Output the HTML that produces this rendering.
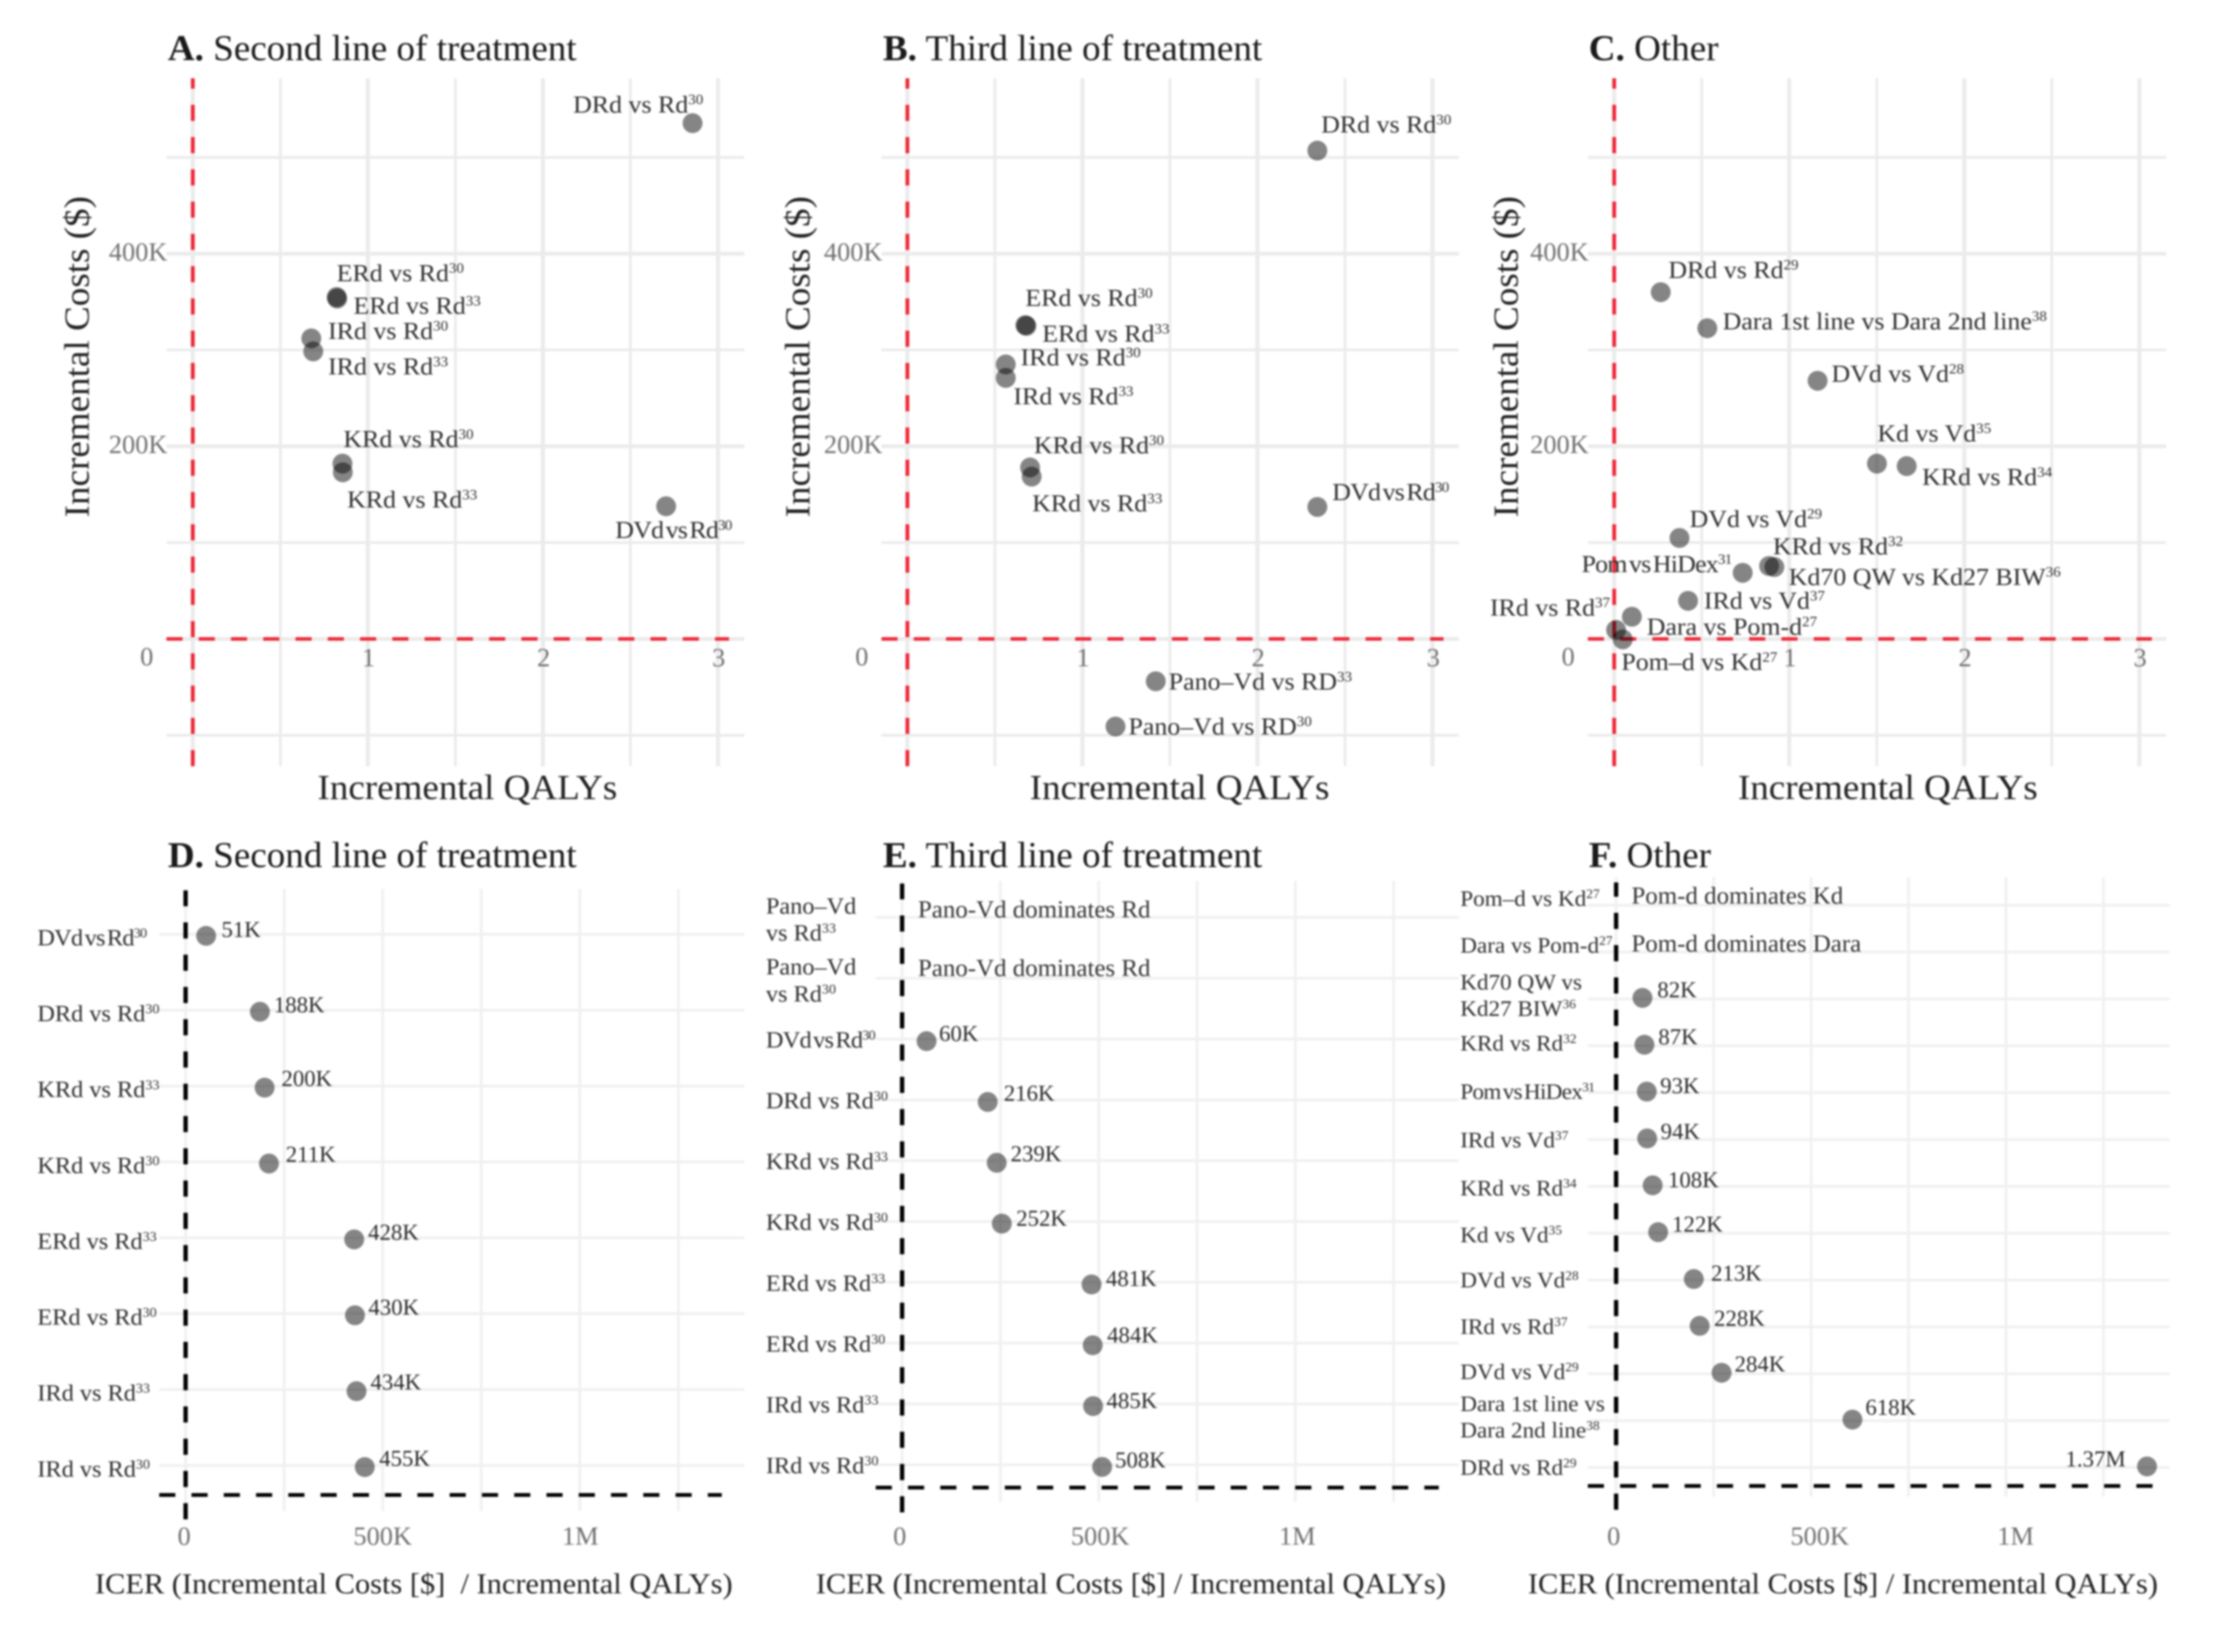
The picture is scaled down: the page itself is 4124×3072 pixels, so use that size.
<!DOCTYPE html>
<html lang="en">
<head>
<meta charset="utf-8">
<title>Incremental costs, QALYs and ICERs</title>
<style>
html,body{margin:0;padding:0;background:#fff;width:4124px;height:3072px;overflow:hidden}
svg{display:block;filter:blur(1.9px);font-family:"Liberation Serif",serif}
text{white-space:pre}
</style>
</head>
<body>
<svg id="chart" xmlns="http://www.w3.org/2000/svg" width="4124" height="3072" viewBox="0 0 4124 3072"></svg>
<script>
/* ---------- DATA ---------- */
const qalyMajorTicks = [0, 1, 2, 3];
const qalyMinorTicks = [0.5, 1.5, 2.5];
const qalyTickLabels = ['1', '2', '3'];
const costMajorTicks = [0, 200, 400];
const costMinorTicks = [-100, 100, 300, 500];
const costTickLabels = ['0', '200K', '400K'];
const icerMajorTicks = [0, 500, 1000];
const icerMinorTicks = [250, 750, 1250];
const icerTickLabels = ['0', '500K', '1M'];

const categoriesA = ['DRd vs Rd|30','ERd vs Rd|30','ERd vs Rd|33','IRd vs Rd|30','IRd vs Rd|33','KRd vs Rd|30','KRd vs Rd|33','DVd vs Rd|30'];
const qalysA = [2.855,0.822,0.825,0.677,0.688,0.855,0.857,2.704];
const costsA = [535.5,355,353.4,312,298.5,182,173,137.7];

const categoriesB = ['DRd vs Rd|30','ERd vs Rd|30','ERd vs Rd|33','IRd vs Rd|30','IRd vs Rd|33','KRd vs Rd|30','KRd vs Rd|33','DVd vs Rd|30','Pano–Vd vs RD|33','Pano–Vd vs RD|30'];
const qalysB = [2.342,0.674,0.68,0.562,0.562,0.701,0.71,2.342,1.419,1.189];
const costsB = [507,325.8,325,285,271,178,168.5,137,-44,-91];

const categoriesC = ['DRd vs Rd|29','Dara 1st line vs Dara 2nd line|38','DVd vs Vd|28','Kd vs Vd|35','KRd vs Rd|34','DVd vs Vd|29','KRd vs Rd|32','Kd70 QW vs Kd27 BIW|36','Pom vs HiDex|31','IRd vs Vd|37','Dara vs Pom-d|27','IRd vs Rd|37','Pom–d vs Kd|27'];
const qalysC = [0.266,0.532,1.162,1.501,1.671,0.373,0.885,0.915,0.734,0.422,0.101,0.011,0.049];
const costsC = [360,322.6,268,182,179.4,104.8,75.7,74.6,68.6,39.5,23,9.3,-0.5];

const categoriesD = ['DVd vs Rd|30','DRd vs Rd|30','KRd vs Rd|33','KRd vs Rd|30','ERd vs Rd|33','ERd vs Rd|30','IRd vs Rd|33','IRd vs Rd|30'];
const icersD = [51,188,200,211,428,430,434,455];
const notesD = [null,null,null,null,null,null,null,null];

const categoriesE = ['Pano–Vd\nvs Rd|33','Pano–Vd\nvs Rd|30','DVd vs Rd|30','DRd vs Rd|30','KRd vs Rd|33','KRd vs Rd|30','ERd vs Rd|33','ERd vs Rd|30','IRd vs Rd|33','IRd vs Rd|30'];
const icersE = [null,null,60,216,239,252,481,484,485,508];
const notesE = ['Pano-Vd dominates Rd','Pano-Vd dominates Rd',null,null,null,null,null,null,null,null];

const categoriesF = ['Pom–d vs Kd|27','Dara vs Pom-d|27','Kd70 QW vs\nKd27 BIW|36','KRd vs Rd|32','Pom vs HiDex|31','IRd vs Vd|37','KRd vs Rd|34','Kd vs Vd|35','DVd vs Vd|28','IRd vs Rd|37','DVd vs Vd|29','Dara 1st line vs\nDara 2nd line|38','DRd vs Rd|29'];
const icersF = [null,null,82,87,93,94,108,122,213,228,284,618,1370];
const notesF = ['Pom-d dominates Kd','Pom-d dominates Dara',null,null,null,null,null,null,null,null,null,null,null];

/* ---------- LAYOUT (not data) ---------- */
const SX = 0.8917, SY = 0.9827;
const svg = document.getElementById('chart');
const NS = 'http://www.w3.org/2000/svg';
const GRID_TOP = '#ebebeb', GRID_BOTTOM = '#f0f0f0';

const nudgesA = [[-249,-20],[0,-30],[34,29],[35,1],[31,44],[2,-31],[9,67],[-106,60]];
const nudgesB = [[8,-34],[0,-36],[33,30],[31,2],[16,50],[8,-27],[1,66],[31,-13],[27,16],[27,15]];
const nudgesC = [[16,-27],[32,2],[29,2],[1,-42],[32,36],[21,-21],[8,-22],[30,34],[-336,-1],[33,15],[31,34],[-263,-27],[-3,58]];
const nudgesD = [[32,2],[29,1],[35,-3],[35,-3],[29,1],[28,-1],[29,-3],[30,-2]];
const nudgesE = [[31,-4],[31,-8],[26,0],[33.5,-2],[29,-3],[30,4],[30,3],[30,-5],[28,4],[27,1]];
const nudgesF = [[44,-1],[44,1],[31,-1],[29,-1],[28,3],[28,1],[32,4],[29,-1],[36,3],[30,0],[27,-2],[27,-9],[-170,0]];
const catOffsetsF = [1,1,0,9,12,15,17,17,14,13,10,0,14];

function group(name){
  const g = document.createElementNS(NS,'g');
  
  
  svg.appendChild(g);
  return g;
}
function line(parent,x1,y1,x2,y2,stroke,width,dash,name){
  const l = document.createElementNS(NS,'line');
  l.setAttribute('x1',x1);l.setAttribute('y1',y1);l.setAttribute('x2',x2);l.setAttribute('y2',y2);
  l.setAttribute('stroke',stroke);l.setAttribute('stroke-width',width);
  if(dash) l.setAttribute('stroke-dasharray',dash);
  
  
  parent.appendChild(l);
}
function dot(parent,x,y,name){
  const c = document.createElementNS(NS,'circle');
  c.setAttribute('cx',x);c.setAttribute('cy',y);c.setAttribute('r',18.5);
  c.setAttribute('fill','#000');c.setAttribute('fill-opacity','0.48');
  
  
  parent.appendChild(c);
}
function label(parent,str,x,y,o,name){
  const t = document.createElementNS(NS,'text');
  const sx = o.sx || 1;
  t.setAttribute('transform', o.rotate ? `translate(${x} ${y}) rotate(-90) scale(${sx} 1)` : `translate(${x} ${y}) scale(${sx} 1)`);
  t.setAttribute('font-size',o.size);
  t.setAttribute('fill',o.fill);
  t.setAttribute('text-anchor',o.anchor || 'start');
  if(/^(DVd vs Rd|Pom vs HiDex)/.test(str)){
    t.setAttribute('word-spacing','-0.13em');
    t.setAttribute('letter-spacing','-0.03em');
  }
  const parts = str.split('|');
  const a = document.createElementNS(NS,'tspan');
  a.textContent = parts[0];
  if(o.title) a.setAttribute('font-weight','bold');
  t.appendChild(a);
  if(parts[1]){
    const b = document.createElementNS(NS,'tspan');
    b.textContent = parts[1];
    if(!o.title){
      b.setAttribute('font-size','0.58em');
      b.setAttribute('dy','-0.6em');
    }
    t.appendChild(b);
  }
  
  
  parent.appendChild(t);
}
const fmtIcer = v => v >= 1000 ? (v/1000).toFixed(2)+'M' : v+'K';
const slug = s => s.replace(/\|/g,'-').replace(/[^A-Za-z0-9]+/g,'-').toLowerCase();

function drawScatter(c,categories,qalys,costs,nudges){
  const g = group('panel-'+c.id);
  const X = d => c.ox + d*SX, Y = d => d*SY;
  const xs = v => X(c.x0 + v*365);
  const ys = v => Y(1209 - v*1.8225);
  qalyMinorTicks.forEach(v => line(g,xs(v),Y(148),xs(v),Y(1450),GRID_TOP,5,null,'grid-x-minor'));
  costMinorTicks.forEach(v => line(g,X(c.gridL),ys(v),X(c.gridR),ys(v),GRID_TOP,5,null,'grid-y-minor'));
  qalyMajorTicks.forEach(v => line(g,xs(v),Y(148),xs(v),Y(1450),GRID_TOP,7.5,null,'grid-x-major'));
  costMajorTicks.forEach(v => line(g,X(c.gridL),ys(v),X(c.gridR),ys(v),GRID_TOP,7,null,'grid-y-major'));
  line(g,xs(0),Y(1450),xs(0),Y(148),'#ee2737',7,'30 30','zero-qaly-reference-line');
  line(g,X(c.gridL),ys(0),X(c.hEnd),ys(0),'#ee2737',6.5,'30 30','zero-cost-reference-line');
  qalys.forEach((q,i) => dot(g,xs(q),ys(costs[i]),'point-'+slug(categories[i])));
  categories.forEach((cat,i) => label(g,cat,xs(qalys[i])+nudges[i][0]*SX,ys(costs[i])+nudges[i][1]*SY,{size:45,sx:1.07,fill:'#2e2e2e'},'point-label-'+slug(cat)));
  qalyTickLabels.forEach((s,i) => label(g,s,xs(i+1)+1.5*SX,Y(1261),{size:49,fill:'#707070',anchor:'middle'},'x-tick-label'));
  costTickLabels.forEach((s,i) => {
    if(s==='0') label(g,s,X(c.gridL-41),Y(1259),{size:49,fill:'#707070',anchor:'middle'},'y-tick-label');
    else label(g,s,X(c.gridL+2),ys(costMajorTicks[i])+13*SY,{size:49,fill:'#707070',anchor:'end'},'y-tick-label');
  });
  label(g,c.letter+'|'+c.title,X(c.titleX),Y(114),{size:68,sx:1.014,fill:'#1a1a1a',title:true},'panel-title');
  label(g,'Incremental QALYs',X(c.xTitleX),Y(1512),{size:66,sx:1.044,fill:'#222'},'x-axis-title');
  label(g,'Incremental Costs ($)',X(c.yTitleX),Y(675),{size:66,sx:1.045,fill:'#222',anchor:'middle',rotate:true},'y-axis-title');
}

function drawForest(c,categories,values,notes,nudges){
  const g = group('panel-'+c.id);
  const X = d => c.ox + d*SX, Y = d => 1530 + d*SY;
  const gx = v => X(c.x0 + v*c.ux);
  const dx = v => X(c.dataX0 + v*c.dataUx);
  const row = i => Y(c.row0 + i*c.rowStep);
  icerMinorTicks.concat(icerMajorTicks).forEach(v => line(g,gx(v),Y(c.top),gx(v),Y(c.bottom),GRID_BOTTOM,5,null,'grid-x'));
  categories.forEach((cat,i) => line(g,X(c.gridL),row(i),X(c.gridR),row(i),GRID_BOTTOM,5,null,'grid-row'));
  line(g,gx(0),Y(c.vBot),gx(0),Y(c.vTop),'#000',8,'30 30','zero-icer-reference-line');
  line(g,X(c.gridL),Y(c.hY),X(c.hEnd),Y(c.hY),'#000',7,'30 30','baseline-reference-line');
  categories.forEach((cat,i) => {
    const catOffset = Array.isArray(c.catDy) ? c.catDy[i] : c.catDy;
    if(cat.includes('\n')){
      const lines = cat.split('\n');
      label(g,lines[0],X(c.catX),row(i)+c.catLines[0]*SY,{size:c.catSize,sx:c.catSx,fill:'#2e2e2e'},'category-label-line');
      label(g,lines[1],X(c.catX),row(i)+c.catLines[1]*SY,{size:c.catSize,sx:c.catSx,fill:'#2e2e2e'},'category-label-line');
    } else {
      label(g,cat,X(c.catX),row(i)+catOffset*SY,{size:c.catSize,sx:c.catSx,fill:'#2e2e2e'},'category-label-'+slug(cat));
    }
    const y = row(i)+c.ptDy*SY;
    if(values[i] !== null){
      dot(g,dx(values[i]),y,'point-'+slug(cat));
      label(g,fmtIcer(values[i]),dx(values[i])+nudges[i][0]*SX,y+nudges[i][1]*SY,{size:42,sx:1.01,fill:'#2a2a2a'},'value-label');
    } else {
      label(g,notes[i],dx(0)+nudges[i][0]*SX,y+nudges[i][1]*SY,{size:45,sx:1.03,fill:'#333'},'dominance-note');
    }
  });
  icerTickLabels.forEach((s,i) => label(g,s,gx(icerMajorTicks[i])+c.tickDx[i]*SX,Y(1366),{size:49,fill:'#707070',anchor:'middle'},'x-tick-label'));
  label(g,c.letter+'|'+c.title,X(c.titleX),Y(84),{size:68,sx:1.014,fill:'#1a1a1a',title:true},'panel-title');
  label(g,c.xTitle,X(c.xTitleX),Y(1458),{size:54,sx:1.047,fill:'#222'},'x-axis-title');
}

drawScatter({id:'a',letter:'A.',title:' Second line of treatment',ox:0,gridL:347,gridR:1552,x0:402,hEnd:1520,titleX:350,xTitleX:662,yTitleX:185},categoriesA,qalysA,costsA,nudgesA);
drawScatter({id:'b',letter:'B.',title:' Third line of treatment',ox:1400,gridL:268,gridR:1472,x0:322,hEnd:1440,titleX:271,xTitleX:577,yTitleX:118},categoriesB,qalysB,costsB,nudgesB);
drawScatter({id:'c',letter:'C.',title:' Other',ox:2724,gridL:256,gridR:1462,x0:311,hEnd:1432,titleX:258,xTitleX:569,yTitleX:110},categoriesC,qalysC,costsC,nudgesC);

drawForest({id:'d',letter:'D.',title:' Second line of treatment',xTitle:'ICER (Incremental Costs [$]  / Incremental QALYs)',ox:0,gridL:332,gridR:1552,top:125,bottom:1302,x0:387,ux:0.822,dataX0:388,dataUx:0.819,row0:211,rowStep:143.6,ptDy:3,hY:1272,hEnd:1505,vTop:128,vBot:1318,catX:78,catDy:21,catLines:[-7,44],catSize:43,catSx:1.05,tickDx:[-3,0,1],titleX:350,xTitleX:198},categoriesD,icersD,notesD,nudgesD);
drawForest({id:'e',letter:'E.',title:' Third line of treatment',xTitle:'ICER (Incremental Costs [$] / Incremental QALYs)',ox:1400,gridL:256,gridR:1472,top:110,bottom:1285,x0:311,ux:0.82,dataX0:313,dataUx:0.817,row0:179,rowStep:115.1,ptDy:4,hY:1258,hEnd:1430,vTop:115,vBot:1305,catX:27,catDy:16,catLines:[-7,44],catSize:43,catSx:1.05,tickDx:[-5,3,4],titleX:271,xTitleX:131},categoriesE,icersE,notesE,nudgesE);
drawForest({id:'f',letter:'F.',title:' Other',xTitle:'ICER (Incremental Costs [$] / Incremental QALYs)',ox:2724,gridL:256,gridR:1469,top:103,bottom:1275,x0:315,ux:0.813,dataX0:303,dataUx:0.8168,row0:156,rowStep:88.67,ptDy:-2,hY:1255,hEnd:1435,vTop:113,vBot:1300,catX:-10,catDy:catOffsetsF,catLines:[-18,32],catSize:41,catSx:1.05,tickDx:[-5,18,20],titleX:258,xTitleX:131},categoriesF,icersF,notesF,nudgesF);
</script>
</body>
</html>
